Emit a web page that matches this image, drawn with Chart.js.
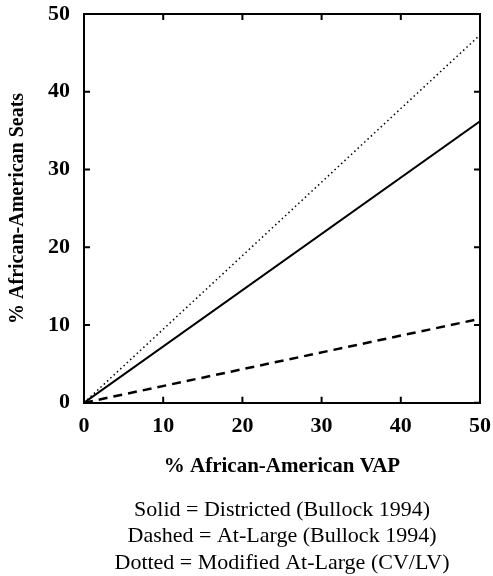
<!DOCTYPE html>
<html>
<head>
<meta charset="utf-8">
<script src="https://cdn.jsdelivr.net/npm/chart.js@4.4.0/dist/chart.umd.min.js"></script>
<style>
  html, body { margin: 0; padding: 0; background: #fff; }
  #wrap { width: 493px; height: 576px; }
</style>
</head>
<body>
<div id="wrap"><canvas id="seats"></canvas></div>
<script>
// data
const vap = [0, 50];
const districted = [0, 36.2];
const atLarge = [0, 10.8];
const modifiedAtLarge = [0, 47.3];
const tickValues = [0, 10, 20, 30, 40, 50];
const notes = [
  "Solid = Districted (Bullock 1994)",
  "Dashed = At-Large (Bullock 1994)",
  "Dotted = Modified At-Large (CV/LV)"
];

const serif = "'Liberation Serif', 'Times New Roman', serif";

function toPoints(ys) {
  return vap.map((x, i) => ({ x: x, y: ys[i] }));
}

// frame on top/right + inward ticks on all four sides
const frameTicks = {
  id: "frameTicks",
  afterDraw(chart) {
    const { ctx, chartArea: a, scales } = chart;
    ctx.save();
    ctx.strokeStyle = "#000";
    ctx.lineWidth = 2;
    ctx.beginPath();
    ctx.moveTo(a.left, a.top);
    ctx.lineTo(a.right, a.top);
    ctx.lineTo(a.right, a.bottom);
    ctx.stroke();
    const len = 6;
    ctx.beginPath();
    tickValues.forEach(v => {
      const px = scales.x.getPixelForValue(v);
      ctx.moveTo(px, a.bottom);
      ctx.lineTo(px, a.bottom - len);
      ctx.moveTo(px, a.top);
      ctx.lineTo(px, a.top + len);
      const py = scales.y.getPixelForValue(v);
      ctx.moveTo(a.left, py);
      ctx.lineTo(a.left + len, py);
      ctx.moveTo(a.right, py);
      ctx.lineTo(a.right - len, py);
    });
    ctx.stroke();
    ctx.restore();
  }
};

// keep the plot box where the figure has it (no extra room for end labels)
function noEdgePadding(s) {
  s.paddingTop = 0;
  s.paddingBottom = 0;
  s.paddingLeft = 0;
  s.paddingRight = 0;
}

const ctx = document.getElementById("seats").getContext("2d");
new Chart(ctx, {
  type: "line",
  data: {
    datasets: [
      {
        label: "Districted",
        data: toPoints(districted),
        borderColor: "#000",
        borderWidth: 2,
        pointRadius: 0,
        fill: false
      },
      {
        label: "At-Large",
        data: toPoints(atLarge),
        borderColor: "#000",
        borderWidth: 2.5,
        borderDash: [9, 6],
        pointRadius: 0,
        fill: false
      },
      {
        label: "Modified At-Large",
        data: toPoints(modifiedAtLarge),
        borderColor: "#000",
        borderWidth: 1.5,
        borderDash: [1.5, 3],
        pointRadius: 0,
        fill: false
      }
    ]
  },
  options: {
    responsive: true,
    maintainAspectRatio: false,
    animation: false,
    layout: { padding: { top: 14, right: 13, bottom: 0, left: 0 } },
    plugins: {
      legend: { display: false },
      tooltip: { enabled: false },
      title: {
        display: true,
        position: "bottom",
        fullSize: false,
        text: notes,
        color: "#000",
        font: { family: serif, size: 22, weight: "normal", lineHeight: 1.2 },
        padding: 0
      }
    },
    scales: {
      x: {
        type: "linear",
        min: 0,
        max: 50,
        afterFit(s) { s.height = 94; noEdgePadding(s); },
        afterBuildTicks(s) { s.ticks = tickValues.map(v => ({ value: v })); },
        grid: { display: false, drawTicks: false },
        border: { display: true, color: "#000", width: 2 },
        ticks: {
          color: "#000",
          padding: 10,
          font: { family: serif, size: 22, weight: "bold" }
        },
        title: {
          display: true,
          text: "% African-American VAP",
          color: "#000",
          font: { family: serif, size: 21, weight: "bold" },
          padding: { top: 0, bottom: 18 }
        }
      },
      y: {
        type: "linear",
        min: 0,
        max: 50,
        afterFit(s) { s.width = 84; noEdgePadding(s); },
        afterBuildTicks(s) { s.ticks = tickValues.map(v => ({ value: v })); },
        grid: { display: false, drawTicks: false },
        border: { display: true, color: "#000", width: 2 },
        ticks: {
          color: "#000",
          padding: 14,
          font: { family: serif, size: 22, weight: "bold" }
        },
        title: {
          display: true,
          text: "% African-American Seats",
          color: "#000",
          font: { family: serif, size: 20, weight: "bold" },
          padding: { top: 6, bottom: 0 }
        }
      }
    }
  },
  plugins: [frameTicks]
});
</script>
</body>
</html>
